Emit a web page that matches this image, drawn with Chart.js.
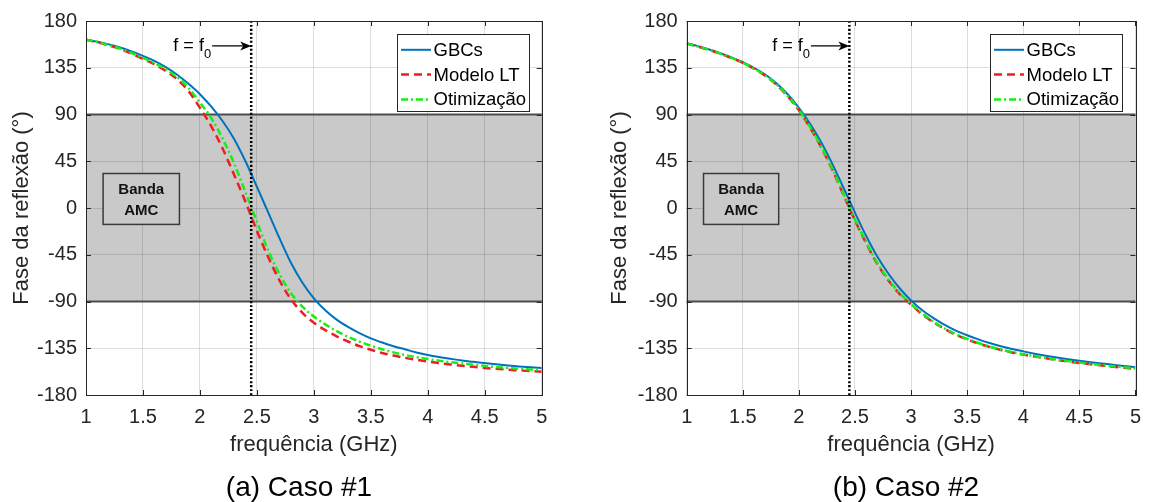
<!DOCTYPE html>
<html><head><meta charset="utf-8">
<script src="https://cdn.jsdelivr.net/npm/chart.js@4/dist/chart.umd.min.js"></script>
<style>
html,body{margin:0;padding:0;background:#fff;}
#wrap{position:relative;width:1151px;height:502px;overflow:hidden;background:#fff;}
.c{position:absolute;top:0;height:502px;}
#c1{left:0;width:575px;}
#c2{left:575px;width:576px;}
.cap{position:absolute;top:471px;width:300px;font:28px "Liberation Sans",Arial,sans-serif;line-height:32px;color:#000;text-align:center;}
</style></head>
<body>
<div id="wrap">
  <div class="c" id="c1"><canvas id="cv1"></canvas></div>
  <div class="c" id="c2"><canvas id="cv2"></canvas></div>
  <div class="cap" id="cap1" style="left:149px"></div>
  <div class="cap" id="cap2" style="left:756px"></div>
</div>
<script>
// ---------------- data ----------------
const freq = [1.0,1.1,1.2,1.3,1.4,1.5,1.6,1.7,1.8,1.9,2.0,2.1,2.2,2.3,2.4,2.5,2.6,2.7,2.8,2.9,3.0,
              3.1,3.2,3.3,3.4,3.5,3.6,3.7,3.8,3.9,4.0,4.1,4.2,4.3,4.4,4.5,4.6,4.7,4.8,4.9,5.0];
const xTickLabels = ['1','1.5','2','2.5','3','3.5','4','4.5','5'];
const yTickLabels = ['-180','-135','-90','-45','0','45','90','135','180'];
const seriesNames = ['GBCs','Modelo LT','Otimização'];
const captions = ['(a) Caso #1','(b) Caso #2'];

const caso1_GBCs = [162,160,157.5,154.5,150.8,146.5,141.6,135.6,128.3,119.5,109.5,97.5,83.5,66.5,45,20.5,-4.5,-29.5,-53,-72,-87,
                    -98.5,-107.5,-114.5,-120.5,-125.5,-129.5,-133,-136,-139,-141.5,-143.5,-145.2,-146.8,-148.1,-149.3,-150.5,-151.5,-152.5,-153.3,-154];
const caso1_ModeloLT = [162,159.5,156.5,153,148.5,143.5,138.5,132,124,112.5,96.5,78.5,57,32,6,-22,-47.5,-70,-88,-101,-110.5,
                        -117.5,-123.5,-128.5,-133,-136.5,-139.5,-142,-144.2,-146.1,-147.8,-149.3,-150.6,-151.8,-152.9,-153.9,-154.8,-155.6,-156.3,-157,-157.6];
const caso1_Otimizacao = [162,159.7,156.8,153.4,149.2,144.5,139.5,133.5,126,115.5,101.5,86.5,66.5,43,15,-13,-41,-64,-82,-95,-104.5,
                          -112,-118.5,-124,-128.5,-132.5,-136,-139,-141.5,-143.6,-145.4,-147,-148.4,-149.7,-150.9,-152,-153,-153.9,-154.7,-155.4,-156];

const caso2_GBCs = [158.5,155.8,152.6,149,145,140.5,135,128.5,120,109.5,96.5,81,63,42,19,-4.5,-27,-47,-63.5,-77.5,-89,
                    -98.5,-106,-112.5,-118,-122.5,-126.5,-130,-133,-135.7,-138,-140.2,-142.2,-144,-145.6,-147,-148.4,-149.7,-150.9,-152.1,-153.2];
const caso2_ModeloLT = [158.3,155.4,152.2,148.5,144.3,139.6,134,127.2,118.6,107.5,94,77.3,58.2,36.5,12,-12,-34,-54,-70,-83,-93,
                        -102.5,-110,-116.5,-122,-126.5,-130.4,-133.7,-136.6,-139,-141.1,-143,-144.7,-146.3,-147.8,-149.2,-150.5,-151.7,-152.8,-153.8,-154.8];
const caso2_Otimizacao = [158.3,155.5,152.3,148.6,144.5,139.8,134.2,127.5,119,108,94.5,78,59,37.5,13,-11,-33,-53,-69,-82,-92.5,
                          -101.5,-109.5,-116,-121.5,-126,-130,-133.3,-136.2,-138.6,-140.7,-142.6,-144.3,-145.9,-147.4,-148.8,-150.1,-151.3,-152.4,-153.4,-154.4];

const f0 = 2.45;                 // resonance marker (GHz)
const bandLimits = [-90, 90];    // AMC band (deg)

// ---------------- styling ----------------
const FONT = '"Liberation Sans", Arial, Helvetica, sans-serif';
const AXC = '#262626';
const BAND_FILL = '#c9c9c9';
const COLORS = ['#0072BD', '#f01c24', '#16ee16'];
const amcBox = {x0: 1.15, x1: 1.82, y0: -15.8, y1: 33.2};
const arrowAnn = {from: 2.107, to: 2.45, y: 156};

Chart.defaults.font.family = FONT;

const matlabPlugin = {
  id: 'matlab',
  beforeDraw(chart) {
    const {ctx, chartArea: a} = chart;
    const y = chart.scales.y;
    ctx.save();
    const yt = y.getPixelForValue(bandLimits[1]), yb = y.getPixelForValue(bandLimits[0]);
    ctx.fillStyle = BAND_FILL;
    ctx.fillRect(a.left, yt, a.right - a.left, yb - yt);
    ctx.restore();
  },
  beforeDatasetsDraw(chart) {
    const {ctx, chartArea: a} = chart;
    const x = chart.scales.x, y = chart.scales.y;
    ctx.save();
    ctx.strokeStyle = '#4d4d4d'; ctx.lineWidth = 2;
    for (const v of bandLimits) {
      const py = y.getPixelForValue(v);
      ctx.beginPath(); ctx.moveTo(a.left, py); ctx.lineTo(a.right, py); ctx.stroke();
    }
    const bx1 = x.getPixelForValue(amcBox.x0), bx2 = x.getPixelForValue(amcBox.x1);
    const by1 = y.getPixelForValue(amcBox.y1), by2 = y.getPixelForValue(amcBox.y0);
    ctx.fillStyle = BAND_FILL; ctx.fillRect(bx1, by1, bx2 - bx1, by2 - by1);
    ctx.strokeStyle = '#3a3a3a'; ctx.lineWidth = 1.5; ctx.strokeRect(bx1, by1, bx2 - bx1, by2 - by1);
    ctx.fillStyle = '#111'; ctx.font = 'bold 15px ' + FONT;
    ctx.textAlign = 'center'; ctx.textBaseline = 'middle';
    const cx = (bx1 + bx2) / 2, cy = (by1 + by2) / 2;
    ctx.fillText('Banda', cx, cy - 9);
    ctx.fillText('AMC', cx, cy + 12);
    ctx.restore();
  },
  afterDraw(chart) {
    const {ctx, chartArea: a} = chart;
    const x = chart.scales.x, y = chart.scales.y;
    ctx.save();
    ctx.strokeStyle = AXC; ctx.lineWidth = 1;
    ctx.strokeRect(Math.round(a.left) + 0.5, Math.round(a.top) + 0.5, Math.round(a.right - a.left), Math.round(a.bottom - a.top));
    ctx.beginPath();
    for (const t of x.ticks) {
      const p = Math.round(x.getPixelForValue(t.value)) + 0.5;
      ctx.moveTo(p, a.bottom); ctx.lineTo(p, a.bottom - 5);
      ctx.moveTo(p, a.top); ctx.lineTo(p, a.top + 5);
    }
    for (const t of y.ticks) {
      const p = Math.round(y.getPixelForValue(t.value)) + 0.5;
      ctx.moveTo(a.left, p); ctx.lineTo(a.left + 5, p);
      ctx.moveTo(a.right, p); ctx.lineTo(a.right - 5, p);
    }
    ctx.stroke();
    const ax1 = x.getPixelForValue(arrowAnn.from), ax2 = x.getPixelForValue(arrowAnn.to), ay = y.getPixelForValue(arrowAnn.y);
    ctx.strokeStyle = '#000'; ctx.fillStyle = '#000'; ctx.lineWidth = 1.3;
    ctx.beginPath(); ctx.moveTo(ax1, ay); ctx.lineTo(ax2 - 6, ay); ctx.stroke();
    ctx.beginPath();
    ctx.moveTo(ax2, ay); ctx.lineTo(ax2 - 11, ay - 4.5); ctx.lineTo(ax2 - 8, ay); ctx.lineTo(ax2 - 11, ay + 4.5);
    ctx.closePath(); ctx.fill();
    ctx.textAlign = 'right'; ctx.textBaseline = 'middle';
    ctx.font = '13px ' + FONT;
    const subW = ctx.measureText('0').width;
    ctx.fillText('0', ax1 - 1, ay + 8);
    ctx.font = '18px ' + FONT;
    ctx.fillText('f = f', ax1 - 1 - subW, ay);
    const lw = 132, lh = 77;
    const lx = Math.round(a.right - 145) + 0.5, ly = Math.round(a.top + 12.7) + 0.5;
    ctx.fillStyle = '#fff'; ctx.fillRect(lx, ly, lw, lh);
    ctx.strokeStyle = AXC; ctx.lineWidth = 1; ctx.strokeRect(lx, ly, lw, lh);
    ctx.textAlign = 'left'; ctx.font = '18.5px ' + FONT;
    for (let i = 0; i < 3; i++) {
      const ds = chart.data.datasets[i];
      const yy = ly + 15.3 + i * 24.8;
      ctx.strokeStyle = ds.borderColor; ctx.lineWidth = ds.borderWidth;
      ctx.setLineDash(ds.borderDash || []);
      ctx.beginPath(); ctx.moveTo(lx + 3.5, yy); ctx.lineTo(lx + 33.5, yy); ctx.stroke();
      ctx.setLineDash([]);
      ctx.fillStyle = '#000';
      ctx.fillText(ds.label, lx + 36, yy + 1);
    }
    ctx.restore();
  }
};

function pts(vals) { return freq.map((f, i) => ({x: f, y: vals[i]})); }

function makeChart(id, series, cfg) {
  const datasets = [
    {label: seriesNames[0], data: pts(series[0]), borderColor: COLORS[0], borderWidth: 2, borderDash: [], order: 3},
    {label: seriesNames[1], data: pts(series[1]), borderColor: COLORS[1], borderWidth: 2.5, borderDash: [8, 5], order: 2},
    {label: seriesNames[2], data: pts(series[2]), borderColor: COLORS[2], borderWidth: 2.5, borderDash: [7, 3, 2, 3], order: 1},
    {label: 'f0', data: [{x: f0, y: -180}, {x: f0, y: 180}], borderColor: '#000', borderWidth: 2.5, borderDash: [2, 2], order: 0}
  ];
  return new Chart(document.getElementById(id), {
    type: 'line',
    data: {datasets},
    plugins: [matlabPlugin],
    options: {
      responsive: true, maintainAspectRatio: false, animation: false,
      layout: {padding: {top: 20, right: cfg.padRight, left: 0, bottom: 0}},
      elements: {point: {radius: 0, hoverRadius: 0}, line: {cubicInterpolationMode: 'monotone', fill: false}},
      plugins: {legend: {display: false}, tooltip: {enabled: false}},
      scales: {
        x: {
          type: 'linear', min: 1, max: 5,
          ticks: {stepSize: 0.5, color: AXC, font: {size: 20}, padding: 10, maxRotation: 0,
                  callback: (v) => xTickLabels[Math.round((v - 1) / 0.5)]},
          grid: {color: 'rgba(0,0,0,0.13)', drawTicks: false},
          border: {display: false},
          title: {display: true, text: 'frequência (GHz)', color: AXC, font: {size: 22}, padding: {top: 0, bottom: 43.8}},
          afterFit: (s) => { s.height = 107; }
        },
        y: {
          type: 'linear', min: -180, max: 180,
          ticks: {stepSize: 45, color: AXC, font: {size: 20}, padding: 9,
                  callback: (v) => yTickLabels[Math.round((v + 180) / 45)]},
          grid: {color: 'rgba(0,0,0,0.13)', drawTicks: false},
          border: {display: false},
          title: {display: true, text: 'Fase da reflexão (°)', color: AXC, font: {size: 22}, padding: {top: cfg.titlePad, bottom: 0}},
          afterFit: (s) => { s.width = cfg.yWidth; }
        }
      }
    }
  });
}

makeChart('cv1', [caso1_GBCs, caso1_ModeloLT, caso1_Otimizacao], {padRight: 33.3, yWidth: 86, titlePad: 8.8});
makeChart('cv2', [caso2_GBCs, caso2_ModeloLT, caso2_Otimizacao], {padRight: 7.7, yWidth: 111.7, titlePad: 31.8});
document.getElementById('cap1').textContent = captions[0];
document.getElementById('cap2').textContent = captions[1];
</script>
</body></html>
